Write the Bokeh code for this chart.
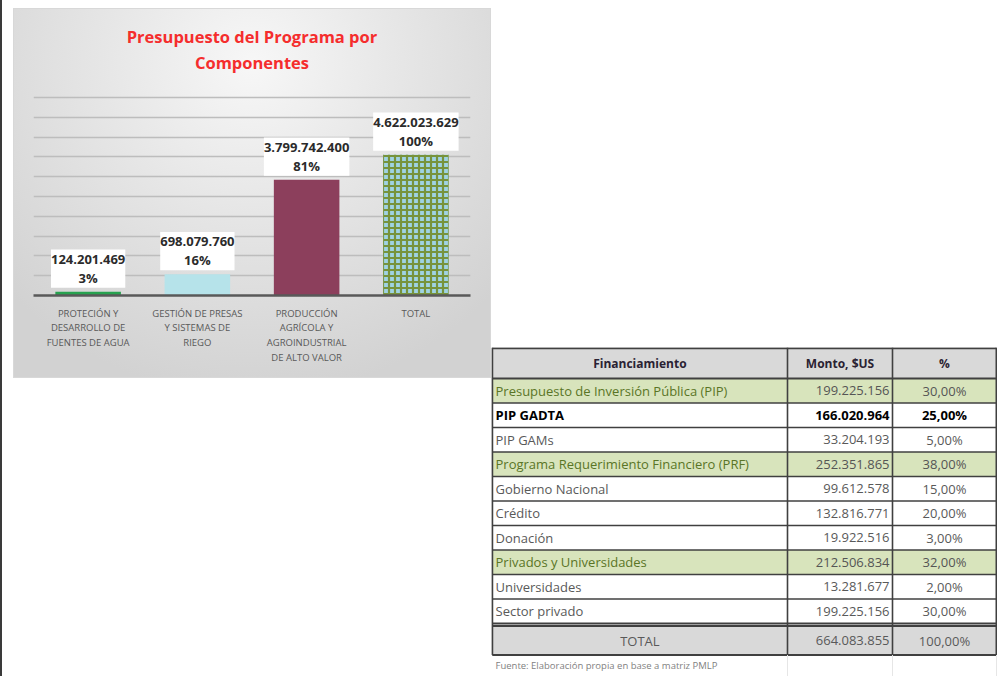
from bokeh.plotting import figure
from bokeh.models import (ColumnDataSource, LabelSet, Label, SingleIntervalTicker,
                          Range1d, FactorRange, Spacer)
from bokeh.layouts import row, column
from bokeh.embed import file_html
from bokeh.resources import INLINE
from bokeh.core.properties import value

# ---------------- data ----------------
components = ["PROTECIÓN Y\nDESARROLLO DE\nFUENTES DE AGUA",
              "GESTIÓN DE PRESAS\nY SISTEMAS DE\nRIEGO",
              "PRODUCCIÓN\nAGRÍCOLA Y\nAGROINDUSTRIAL\nDE ALTO VALOR",
              "TOTAL"]
amounts = [124201469, 698079760, 3799742400, 4622023629]
shares = [3, 16, 81, 100]
title_lines = ["Presupuesto del Programa por", "Componentes"]

header_labels = ["Financiamiento", "Monto, $US", "%"]
fin_labels = ["Presupuesto de Inversión Pública (PIP)", "PIP GADTA", "PIP GAMs",
              "Programa Requerimiento Financiero (PRF)", "Gobierno Nacional", "Crédito",
              "Donación", "Privados y Universidades", "Universidades", "Sector privado"]
fin_montos = ["199.225.156", "166.020.964", "33.204.193", "252.351.865", "99.612.578",
              "132.816.771", "19.922.516", "212.506.834", "13.281.677", "199.225.156"]
fin_pcts = ["30,00%", "25,00%", "5,00%", "38,00%", "15,00%", "20,00%", "3,00%",
            "32,00%", "2,00%", "30,00%"]
total_label = "TOTAL"
total_monto = "664.083.855"
total_pct = "100,00%"
source_note = "Fuente: Elaboración propia en base a matriz PMLP"

# ---------------- styles ----------------
FONT = "Open Sans"
bar_fill = ["#27a24f", "#b6e3ea", "#8c3f5c", "#9fd3e3"]
bar_hatch = ["blank", "blank", "blank", "cross"]
bar_hatch_color = ["#77933c"] * 4
row_kind = ["group", "bold", "normal", "group", "normal", "normal", "normal",
            "group", "normal", "normal"]


def fmt(v):
    return f"{v:,}".replace(",", ".")


# ---------------- chart ----------------
YMAX = 6.5e9                 # top gridline of the value axis
YTOP = YMAX * 277 / 198      # extra room above the grid holds the title
src = ColumnDataSource(dict(
    cat=components, amt=amounts,
    vlabel=[f"{fmt(a)}\n " for a in amounts],
    plabel=[f"{s}%" for s in shares],
    fill=bar_fill, hatch=bar_hatch, hcol=bar_hatch_color))

p = figure(x_range=FactorRange(*components), y_range=Range1d(0, YTOP),
           width=478, height=370, output_backend="svg", toolbar_location=None,
           title=None, min_border_left=20, min_border_right=21,
           min_border_top=10, min_border_bottom=83,
           background_fill_color=None, border_fill_color=None,
           outline_line_color=None,
           styles={"background": "radial-gradient(ellipse 70% 90% at 50% 15%, #f7f7f7 0%, #e6e6e6 45%, #d2d2d2 100%)",
                   "box-shadow": "inset 0 0 0 1px #d8d8d8"})

p.vbar(x="cat", top="amt", width=0.6, source=src, fill_color="fill",
       line_color=None, hatch_pattern="hatch", hatch_color="hcol",
       hatch_weight=2.2, hatch_scale=6)

p.yaxis.visible = False
p.yaxis.ticker = SingleIntervalTicker(interval=6.5e8)
p.ygrid.ticker = SingleIntervalTicker(interval=6.5e8)
p.ygrid.bounds = (0, YMAX)
p.ygrid.grid_line_color = "#bdbdbd"
p.ygrid.grid_line_width = 1.5
p.xgrid.visible = False

ax = p.xaxis[0]
ax.axis_line_color = "#595959"
ax.axis_line_width = 2.5
ax.major_tick_line_color = None
ax.minor_tick_line_color = None
ax.major_label_text_font = FONT
ax.major_label_text_font_size = "9.5px"
ax.major_label_text_color = "#595959"
ax.major_label_text_line_height = 1.15
ax.major_label_standoff = 5

vlabels = LabelSet(x="cat", y="amt", text="vlabel", source=src,
                   text_align="center", text_baseline="bottom", y_offset=4,
                   text_font=value(FONT), text_font_size="13px",
                   text_font_style="bold", text_color="#2b2b2b",
                   text_line_height=1.12,
                   background_fill_color="white")
p.add_layout(vlabels)
plabels = LabelSet(x="cat", y="amt", text="plabel", source=src,
                   text_align="center", text_baseline="bottom", y_offset=5,
                   text_font=value(FONT), text_font_size="13px",
                   text_font_style="bold", text_color="#2b2b2b")
p.add_layout(plabels)

for line, off in zip(title_lines, [61, 35]):
    p.add_layout(Label(x=len(components) / 2, y=YMAX, y_offset=off, text=line,
                       text_align="center", text_baseline="middle",
                       text_font=FONT, text_font_size="16.5px",
                       text_font_style="bold", text_color="#f52d2d"))

# ---------------- table ----------------
TW, TH = 506, 329
col_edges = [0.75, 296, 401, 505]
header_h, row_h, gap, total_h = 31, 24.5, 2.5, 29

t = figure(width=TW, height=TH, x_range=Range1d(0, TW), y_range=Range1d(TH, 0),
           x_axis_location=None, y_axis_location=None, min_border=0,
           output_backend="svg", toolbar_location=None, outline_line_color=None,
           background_fill_color="white", border_fill_color="white")
t.grid.visible = False

n = len(fin_labels)
row_top = [header_h + i * row_h for i in range(n)]
row_bot = [y + row_h for y in row_top]
row_mid = [y + row_h / 2 for y in row_top]
total_top = row_bot[-1] + gap
total_bot = total_top + total_h

fill_map = {"group": "#d8e4bc", "bold": "white", "normal": "white"}
name_col = {"group": "#5a7526", "bold": "#000000", "normal": "#595959"}
num_col = {"group": "#555555", "bold": "#000000", "normal": "#595959"}
style_map = {"group": "normal", "bold": "bold", "normal": "normal"}

t.quad(left=col_edges[:-1], right=col_edges[1:], top=[0] * 3,
       bottom=[header_h] * 3, fill_color="#d9d9d9", line_color=None)
t.quad(left=[col_edges[0]] * n, right=[col_edges[-1]] * n, top=row_top,
       bottom=row_bot, fill_color=[fill_map[k] for k in row_kind], line_color=None)
t.quad(left=[col_edges[0]], right=[col_edges[-1]], top=[total_top],
       bottom=[total_bot], fill_color="#d9d9d9", line_color=None)

hy = [0.75, header_h] + row_bot + [total_top, total_bot]
hw = [2, 2] + [1.3] * (n - 1) + [1.8, 1.8, 2]
t.segment(x0=[col_edges[0]] * len(hy), x1=[col_edges[-1]] * len(hy), y0=hy, y1=hy,
          line_color="#404040", line_width=hw)
t.segment(x0=col_edges, x1=col_edges, y0=[0] * 4, y1=[total_bot] * 4,
          line_color="#404040", line_width=[2, 1.6, 1.6, 2])
t.segment(x0=col_edges[1:], x1=col_edges[1:], y0=[total_bot] * 3, y1=[TH] * 3,
          line_color="#e6e6e6", line_width=1)

hx = [(col_edges[i] + col_edges[i + 1]) / 2 for i in range(3)]
t.text(x=hx, y=[header_h / 2] * 3, text=header_labels, text_align="center",
       text_baseline="middle", text_font=value(FONT), text_font_size="12px",
       text_font_style="bold", text_color="#2a2233")

tsrc = ColumnDataSource(dict(
    y=row_mid, name=fin_labels, monto=fin_montos, pct=fin_pcts,
    ncol=[name_col[k] for k in row_kind], vcol=[num_col[k] for k in row_kind],
    fs=[style_map[k] for k in row_kind]))
t.text(x=4, y="y", text="name", source=tsrc, text_align="left",
       text_baseline="middle", text_font=value(FONT), text_font_size="13px",
       text_font_style="fs", text_color="ncol")
t.text(x=col_edges[2] - 3, y="y", text="monto", source=tsrc, text_align="right",
       text_baseline="middle", text_font=value(FONT), text_font_size="13px",
       text_font_style="fs", text_color="vcol")
t.text(x=hx[2], y="y", text="pct", source=tsrc, text_align="center",
       text_baseline="middle", text_font=value(FONT), text_font_size="13px",
       text_font_style="fs", text_color="vcol")

tm = (total_top + total_bot) / 2
t.text(x=[hx[0], col_edges[2] - 3, hx[2]], y=[tm] * 3,
       text=[total_label, total_monto, total_pct],
       text_align=["center", "right", "center"], text_baseline="middle",
       text_font=value(FONT), text_font_size="13px", text_color="#595959")
t.text(x=[4], y=[(total_bot + TH) / 2], text=[source_note], text_align="left",
       text_baseline="middle", text_font=value(FONT), text_font_size="9.5px",
       text_color="#7f7f7f")

edge = Spacer(width=13, height=676,
              styles={"border-left": "2px solid #3a3a3a", "box-sizing": "border-box"})
layout = row(edge, column(Spacer(height=8), row(p, column(Spacer(height=339), t))))

open("out.html", "w").write(file_html(layout, INLINE))
